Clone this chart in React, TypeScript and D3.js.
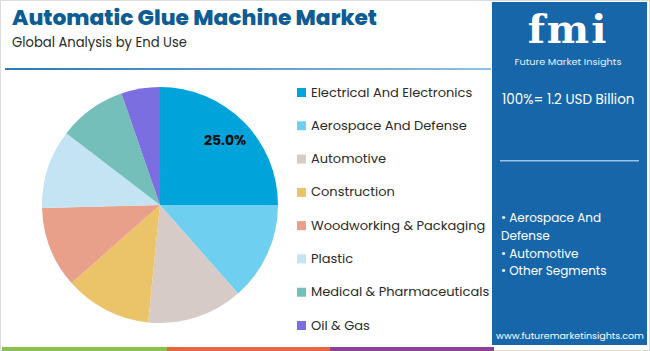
import React from 'react';
import * as d3 from 'd3';

// segments, clockwise from 12 o'clock
const categories = [
  'Electrical And Electronics',
  'Aerospace And Defense',
  'Automotive',
  'Construction',
  'Woodworking & Packaging',
  'Plastic',
  'Medical & Pharmaceuticals',
  'Oil & Gas',
];
const shares = [25.0, 13.5, 13.1, 11.9, 11.1, 10.8, 9.3, 5.3];
const colors = ['#00a3da', '#6ecff0', '#d6cbc7', '#ebc46a', '#e8a08a', '#c4e4f4', '#74bfba', '#7b6ee0'];
const highlights = ['Aerospace And', 'Defense', 'Automotive', 'Other Segments'];
const bulletRows = [true, false, true, true];

const W = 650;
const H = 351;
const font = "Poppins, 'Open Sans', sans-serif";

export default function App() {
  const cx = 160;
  const cy = 205;
  const r = 118;

  const pie = d3.pie<number>().value(d => d).sort(null);
  const arcs = pie(shares);
  const arc = d3.arc<d3.PieArcDatum<number>>().innerRadius(0).outerRadius(r);
  const labelArc = d3.arc<d3.PieArcDatum<number>>().innerRadius(r * 0.78).outerRadius(r * 0.78);

  const legendY = d3.scalePoint<string>().domain(categories).range([92, 325]);

  return (
    <svg width={W} height={H} style={{ position: 'absolute', left: 0, top: 0 }}>
      <defs>
        <linearGradient id="rule" x1="0" x2="1" y1="0" y2="0">
          <stop offset="0" stopColor="#2b79b5" />
          <stop offset="1" stopColor="#8fc1e3" />
        </linearGradient>
      </defs>
      <rect x={0.5} y={0.5} width={W - 1} height={H - 1} fill="#fff" stroke="#dcdcdc" />

      <text x={12} y={25} fontFamily={font} fontWeight={800} fontSize={21} fill="#0d5c93"
        textLength={365} lengthAdjust="spacingAndGlyphs">Automatic Glue Machine Market</text>
      <text x={12} y={47} fontFamily={font} fontSize={13.5} fill="#2a2a2a"
        textLength={175} lengthAdjust="spacingAndGlyphs">Global Analysis by End Use</text>
      <rect x={5} y={68} width={486} height={2} fill="url(#rule)" />

      <g transform={`translate(${cx},${cy})`}>
        {arcs.map((a, i) => (
          <path key={categories[i]} d={arc(a) || ''} fill={colors[i]} />
        ))}
        {arcs.slice(0, 1).map(a => {
          const [lx, ly] = labelArc.centroid(a);
          return (
            <text key="lbl" x={lx} y={ly} dy="0.35em" textAnchor="middle" fontFamily={font}
              fontWeight={700} fontSize={14} fill="#111">{a.data.toFixed(1)}%</text>
          );
        })}
      </g>

      {categories.map((c, i) => (
        <g key={c} transform={`translate(297,${legendY(c)})`}>
          <rect x={0} y={-4} width={9} height={9} fill={colors[i]} />
          <text x={14} y={0} dy="0.35em" fontFamily={font} fontSize={13} fill="#2a2a2a">{c}</text>
        </g>
      ))}

      {/* side panel */}
      <rect x={492} y={2} width={155} height={343} fill="#1766a9" />
      <text x={568} y={43} textAnchor="middle" fontFamily="'DejaVu Serif', serif" fontWeight={700}
        fontSize={40} fill="#fff" letterSpacing={2}>fmi</text>
      <text x={568} y={65} textAnchor="middle" fontFamily={font} fontSize={9.5} fill="#e8f2fa"
        textLength={107} lengthAdjust="spacingAndGlyphs">Future Market Insights</text>
      <text x={502} y={104} fontFamily={font} fontSize={13.5} fill="#fff">100%= 1.2 USD Billion</text>
      <rect x={500} y={160} width={139} height={1.5} fill="#9cc3e3" />
      {highlights.map((t, i) => (
        <text key={t} x={501} y={222 + i * 17.8} fontFamily={font} fontSize={12} fill="#fff">
          {bulletRows[i] ? `\u2022 ${t}` : t}
        </text>
      ))}
      <text x={570} y={339} textAnchor="middle" fontFamily={font} fontSize={9.5} fill="#fff">www.futuremarketinsights.com</text>

      <rect x={2} y={347} width={165} height={4} fill="#8cc152" />
      <rect x={167} y={347} width={163} height={4} fill="#e8663d" />
      <rect x={330} y={347} width={164} height={4} fill="#8e3f96" />
    </svg>
  );
}
